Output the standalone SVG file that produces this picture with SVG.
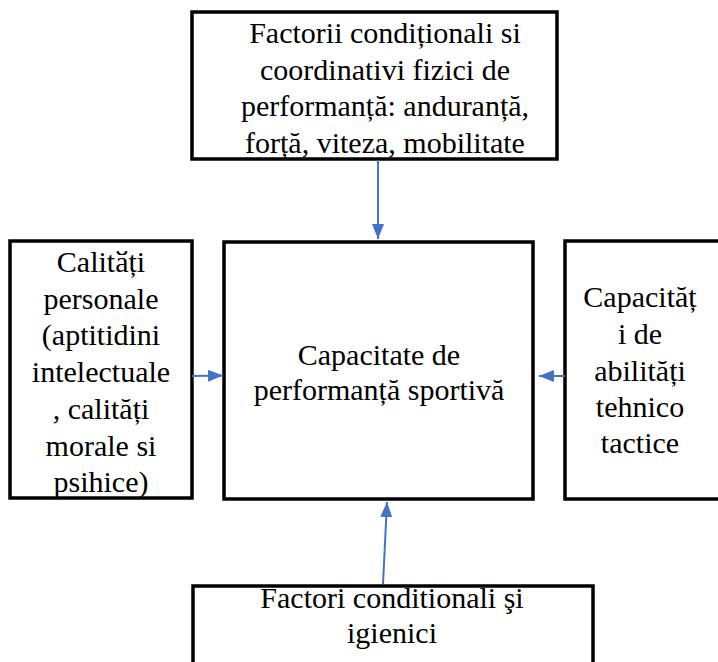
<svg xmlns="http://www.w3.org/2000/svg" width="718" height="662" viewBox="0 0 718 662">
  <style>
    .box { fill: #ffffff; stroke: #000000; stroke-width: 3.5; }
    .lbl { font-family: 'Liberation Serif', 'DejaVu Serif', serif; font-size: 30px; fill: #000000; text-anchor: middle; }
    .conn { stroke: #4472C4; stroke-width: 2; fill: none; marker-end: url(#head); }
  </style>
  <defs>
    <marker id="head" viewBox="0 0 10 10" refX="10" refY="5" markerWidth="15" markerHeight="12" markerUnits="userSpaceOnUse" orient="auto" preserveAspectRatio="none">
      <path d="M0,0 L10,5 L0,10 z" fill="#4472C4"/>
    </marker>
  </defs>
  <rect width="718" height="662" fill="#ffffff"/>

  <g id="top-node">
    <rect class="box" x="192" y="12" width="365" height="147"/>
    <text class="lbl" font-family="Liberation Serif" x="385" y="43">Factorii condiționali si</text>
    <text class="lbl" font-family="Liberation Serif" x="385" y="79.5">coordinativi fizici de</text>
    <text class="lbl" font-family="Liberation Serif" x="385" y="116">performanță: anduranță,</text>
    <text class="lbl" font-family="Liberation Serif" x="385" y="152.5">forță, viteza, mobilitate</text>
  </g>

  <g id="left-node">
    <rect class="box" x="10" y="241" width="182" height="257"/>
    <text class="lbl" x="101" y="272">Calitӑți</text>
    <text class="lbl" x="101" y="308.5">personale</text>
    <text class="lbl" x="101" y="345">(aptitidini</text>
    <text class="lbl" x="101" y="382">intelectuale</text>
    <text class="lbl" x="101" y="419">, calități</text>
    <text class="lbl" x="101" y="456">morale si</text>
    <text class="lbl" x="101" y="492">psihice)</text>
  </g>

  <g id="center-node">
    <rect class="box" x="224" y="242" width="309" height="257"/>
    <text class="lbl" x="379" y="365">Capacitate de</text>
    <text class="lbl" x="379" y="400">performanță sportivă</text>
  </g>

  <g id="right-node">
    <rect class="box" x="565" y="241" width="160" height="258"/>
    <text class="lbl" x="640" y="307">Capacităț</text>
    <text class="lbl" x="640" y="344">i de</text>
    <text class="lbl" x="640" y="381">abilități</text>
    <text class="lbl" x="640" y="417">tehnico</text>
    <text class="lbl" x="640" y="453">tactice</text>
  </g>

  <g id="bottom-node">
    <rect class="box" x="193" y="586" width="400" height="90"/>
    <text class="lbl" x="392" y="608">Factori conditionali şi</text>
    <text class="lbl" x="392" y="643">igienici</text>
  </g>

  <g id="connectors">
    <line class="conn" x1="378" y1="160" x2="378" y2="239"/>
    <line class="conn" x1="192" y1="376" x2="223" y2="375.5"/>
    <line class="conn" x1="565" y1="376" x2="539" y2="376"/>
    <line class="conn" x1="383" y1="584" x2="387" y2="502"/>
  </g>
</svg>
